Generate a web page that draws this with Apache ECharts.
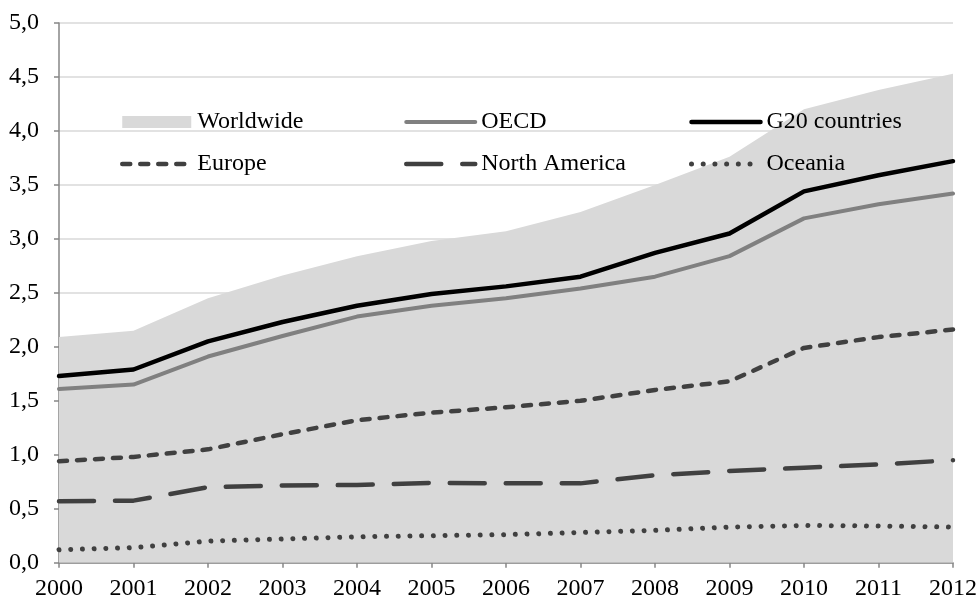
<!DOCTYPE html>
<html>
<head>
<meta charset="utf-8">
<script src="https://cdn.jsdelivr.net/npm/echarts@6/dist/echarts.min.js"></script>
<style>
html,body{margin:0;padding:0;background:#fff;}
#chart{width:980px;height:603px;}
</style>
</head>
<body>
<div id="chart"></div>
<script>
const years = ['2000','2001','2002','2003','2004','2005','2006','2007','2008','2009','2010','2011','2012'];
const worldwide = [2.09, 2.15, 2.45, 2.66, 2.84, 2.98, 3.07, 3.25, 3.50, 3.76, 4.20, 4.38, 4.53];
const oecd = [1.61, 1.65, 1.91, 2.10, 2.28, 2.38, 2.45, 2.54, 2.65, 2.84, 3.19, 3.32, 3.42];
const g20 = [1.73, 1.79, 2.05, 2.23, 2.38, 2.49, 2.56, 2.65, 2.87, 3.05, 3.44, 3.59, 3.72];
const europe = [0.94, 0.98, 1.05, 1.19, 1.32, 1.39, 1.44, 1.50, 1.60, 1.68, 1.99, 2.09, 2.16];
const northAmerica = [0.57, 0.575, 0.70, 0.715, 0.72, 0.74, 0.735, 0.735, 0.81, 0.85, 0.88, 0.91, 0.95];
const oceania = [0.12, 0.14, 0.20, 0.22, 0.24, 0.25, 0.26, 0.28, 0.30, 0.33, 0.345, 0.34, 0.33];
const yTicks = { min: 0, max: 5, step: 0.5 };

const FONT = '"Liberation Serif", "Times New Roman", serif';
const chart = echarts.init(document.getElementById('chart'), null, {renderer: 'canvas'});

const styles = {
  'OECD': {width: 4, color: '#808080', type: 'solid', cap: 'round', join: 'round'},
  'G20 countries': {width: 4.5, color: '#000', type: 'solid', cap: 'round', join: 'round'},
  'Europe': {width: 4.5, color: '#404040', type: [8, 10], cap: 'round', join: 'round'},
  'North America': {width: 4.5, color: '#404040', type: [35, 21], cap: 'round', join: 'round'},
  'Oceania': {width: 5, color: '#404040', type: [0.01, 11.7], cap: 'round', join: 'round'}
};

function lineItem(name) {
  return {name: name, itemStyle: {opacity: 0, borderWidth: 0}, lineStyle: Object.assign({opacity: 1}, styles[name])};
}

function legendCol(left, items) {
  return {
    orient: 'vertical',
    left: left,
    top: 109,
    padding: 0,
    itemWidth: 69,
    itemHeight: 12,
    itemGap: 16,
    selectedMode: false,
    textStyle: {fontFamily: FONT, fontSize: 24, color: '#000', lineHeight: 26, padding: [0,0,0,1]},
    data: items
  };
}

const option = {
  backgroundColor: '#fff',
  animation: false,
  grid: {left: 59, right: 25.5, top: 23, bottom: 40.3, containLabel: false},
  legend: [
    legendCol(120, [{name: 'Worldwide', icon: 'rect', itemStyle: {color: '#d9d9d9', borderWidth: 0, opacity: 1}}, lineItem('Europe')]),
    legendCol(404, [lineItem('OECD'), lineItem('North America')]),
    legendCol(689, [lineItem('G20 countries'), lineItem('Oceania')])
  ],
  xAxis: {
    type: 'category',
    data: years,
    boundaryGap: false,
    axisLine: {show: true, lineStyle: {color: '#868686', width: 1.5}},
    axisTick: {show: true, length: 5, lineStyle: {color: '#868686', width: 1.5}},
    axisLabel: {fontFamily: FONT, fontSize: 24, color: '#000', margin: 14},
    splitLine: {show: false}
  },
  yAxis: {
    type: 'value',
    min: yTicks.min, max: yTicks.max, interval: yTicks.step,
    axisLine: {show: true, lineStyle: {color: '#868686', width: 1.5}},
    axisTick: {show: true, length: 5, lineStyle: {color: '#868686', width: 1.5}},
    axisLabel: {fontFamily: FONT, fontSize: 24, color: '#000', margin: 20,
      formatter: v => v.toFixed(1).replace('.', ',')},
    splitLine: {show: true, lineStyle: {color: '#d9d9d9', width: 1.5}}
  },
  series: [
    {name: 'Worldwide', type: 'line', data: worldwide, symbol: 'none', color: '#d9d9d9',
      lineStyle: {width: 0, color: '#d9d9d9'}, areaStyle: {color: '#d9d9d9', opacity: 1}, z: 1},
    {name: 'OECD', type: 'line', data: oecd, symbol: 'none', color: '#808080', lineStyle: styles['OECD'], z: 3},
    {name: 'G20 countries', type: 'line', data: g20, symbol: 'none', color: '#000', lineStyle: styles['G20 countries'], z: 4},
    {name: 'Europe', type: 'line', data: europe, symbol: 'none', color: '#404040', lineStyle: styles['Europe'], z: 3},
    {name: 'North America', type: 'line', data: northAmerica, symbol: 'none', color: '#404040', lineStyle: styles['North America'], z: 3},
    {name: 'Oceania', type: 'line', data: oceania, symbol: 'none', color: '#404040', lineStyle: styles['Oceania'], z: 3}
  ]
};
chart.setOption(option);
</script>
</body>
</html>
